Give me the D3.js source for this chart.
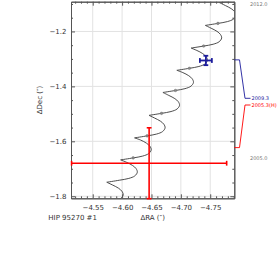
<!DOCTYPE html>
<html>
<head>
<meta charset="utf-8">
<script src="https://cdn.jsdelivr.net/npm/d3@7"></script>
<style>
  body { margin: 0; background: #fff; }
  svg { display: block; }
  text { font-family: "DejaVu Sans", sans-serif; fill: #333; }
</style>
</head>
<body>
<svg id="chart" width="277" height="262"></svg>
<script>
// model track (RA, Dec in arcsec), 8 points per yearly loop, loops start at a cusp
var trackRA = [
  -4.5498, -4.5711, -4.5873, -4.5975, -4.6018, -4.5997, -4.5938, -4.5839,
  -4.5739, -4.5952, -4.6114, -4.6216, -4.6259, -4.6238, -4.6179, -4.6080,
  -4.5975, -4.6188, -4.6350, -4.6452, -4.6495, -4.6474, -4.6415, -4.6316,
  -4.6212, -4.6425, -4.6587, -4.6689, -4.6732, -4.6711, -4.6652, -4.6553,
  -4.6458, -4.6671, -4.6833, -4.6935, -4.6978, -4.6957, -4.6898, -4.6799,
  -4.6695, -4.6908, -4.7070, -4.7172, -4.7215, -4.7194, -4.7135, -4.7036,
  -4.6932, -4.7145, -4.7307, -4.7409, -4.7452, -4.7431, -4.7372, -4.7273,
  -4.7175, -4.7388, -4.7550, -4.7652, -4.7695, -4.7674, -4.7615, -4.7516,
  -4.7418, -4.7631, -4.7793, -4.7895, -4.7938, -4.7917, -4.7858, -4.7759,
  -4.7658, -4.7871, -4.8033
];
var trackDec = [
  -1.8315, -1.8242, -1.8176, -1.8085, -1.7950, -1.7819, -1.7706, -1.7593,
  -1.7490, -1.7417, -1.7351, -1.7260, -1.7125, -1.6994, -1.6881, -1.6768,
  -1.6677, -1.6604, -1.6538, -1.6447, -1.6312, -1.6181, -1.6068, -1.5955,
  -1.5875, -1.5802, -1.5736, -1.5645, -1.5510, -1.5379, -1.5266, -1.5153,
  -1.5055, -1.4982, -1.4916, -1.4825, -1.4690, -1.4559, -1.4446, -1.4333,
  -1.4222, -1.4149, -1.4083, -1.3992, -1.3857, -1.3726, -1.3613, -1.3500,
  -1.3415, -1.3342, -1.3276, -1.3185, -1.3050, -1.2919, -1.2806, -1.2693,
  -1.2605, -1.2532, -1.2466, -1.2375, -1.2240, -1.2109, -1.1996, -1.1883,
  -1.1780, -1.1707, -1.1641, -1.1550, -1.1415, -1.1284, -1.1171, -1.1058,
  -1.0950, -1.0877, -1.0811
];
var cuspIndex = [0, 8, 16, 24, 32, 40, 48, 56, 64, 72];

// yearly epoch markers on the track
var epochRA  = [-4.6188, -4.6425, -4.6671, -4.6908, -4.7145, -4.7388, -4.7631];
var epochDec = [-1.6604, -1.5802, -1.4982, -1.4149, -1.3342, -1.2532, -1.1707];

// observations
var obsLabel  = ["2009.3", "2005.3(H)"];
var obsRA     = [-4.7426, -4.6460];
var obsDec    = [-1.3057, -1.6798];
var obsErrRA  = [0.0102, 0.1320];
var obsErrDec = [0.0171, 0.1290];
var obsTrackDec = [-1.3035, -1.6229];

// epoch labels at right
var endLabel = ["2012.0", "2005.0"];
var endDec   = [-1.1025, -1.6618];

var xMajor = [-4.55, -4.60, -4.65, -4.70, -4.75];
var yMajor = [-1.2, -1.4, -1.6, -1.8];

var svg = d3.select("#chart");
var L = 71, R = 234.3, T = 1.7, B = 198.3;

var x = d3.scaleLinear().domain([-4.513, -4.791]).range([L, R]);
var y = d3.scaleLinear().domain([-1.0917, -1.8075]).range([T, B]);

var xMinor = d3.range(-4.52, -4.7901, -0.01).map(function (d) { return +d.toFixed(2); })
  .filter(function (d) { return xMajor.indexOf(d) < 0; });
var yMinor = d3.range(-1.10, -1.8001, -0.05).map(function (d) { return +d.toFixed(2); })
  .filter(function (d) { return yMajor.indexOf(d) < 0; });

svg.append("defs").append("clipPath").attr("id", "plot")
  .append("rect").attr("x", L).attr("y", T).attr("width", R - L).attr("height", B - T);

// grid
var grid = svg.append("g").attr("stroke", "#e2e2e2").attr("stroke-width", 1);
grid.selectAll(".gx").data(xMajor).enter().append("line")
  .attr("x1", d => x(d)).attr("x2", d => x(d)).attr("y1", T).attr("y2", B);
grid.selectAll(".gy").data(yMajor).enter().append("line")
  .attr("y1", d => y(d)).attr("y2", d => y(d)).attr("x1", L).attr("x2", R);

// track
var line = d3.line()
  .x(function (i) { return x(trackRA[i]); })
  .y(function (i) { return y(trackDec[i]); })
  .curve(d3.curveCatmullRom);

var segs = cuspIndex.map(function (c, k) {
  var end = k + 1 < cuspIndex.length ? cuspIndex[k + 1] : trackRA.length - 1;
  return d3.range(c, end + 1);
});

var plot = svg.append("g").attr("clip-path", "url(#plot)");
plot.selectAll(".seg").data(segs).enter().append("path")
  .attr("d", line)
  .attr("fill", "none")
  .attr("stroke", "#3a3a3a")
  .attr("stroke-width", 0.9);

plot.selectAll(".ep").data(epochRA).enter().append("circle")
  .attr("cx", d => x(d))
  .attr("cy", (d, i) => y(epochDec[i]))
  .attr("r", 1.3)
  .attr("fill", "#8a8a8a")
  .attr("stroke", "#666")
  .attr("stroke-width", 0.4);

// axes
function styleAxis(g) {
  g.selectAll(".domain").attr("stroke", "#555");
  g.selectAll(".tick line").attr("stroke", "#555");
  g.selectAll("text").attr("font-size", 7).attr("font-family", "DejaVu Sans").attr("fill", "#333");
}

svg.append("g").attr("transform", `translate(0,${B})`)
  .call(d3.axisBottom(x).tickValues(xMajor).tickFormat(d3.format(".2f")).tickSize(-4).tickSizeOuter(0).tickPadding(7))
  .call(styleAxis);
svg.append("g").attr("transform", `translate(0,${B})`)
  .call(d3.axisBottom(x).tickValues(xMinor).tickFormat("").tickSize(-2).tickSizeOuter(0))
  .call(styleAxis);
svg.append("g").attr("transform", `translate(0,${T})`)
  .call(d3.axisTop(x).tickValues(xMajor).tickFormat("").tickSize(-4).tickSizeOuter(0))
  .call(styleAxis);
svg.append("g").attr("transform", `translate(0,${T})`)
  .call(d3.axisTop(x).tickValues(xMinor).tickFormat("").tickSize(-2).tickSizeOuter(0))
  .call(styleAxis);

svg.append("g").attr("transform", `translate(${L},0)`)
  .call(d3.axisLeft(y).tickValues(yMajor).tickFormat(d3.format(".1f")).tickSize(-4).tickSizeOuter(0).tickPadding(4.5))
  .call(styleAxis);
svg.append("g").attr("transform", `translate(${L},0)`)
  .call(d3.axisLeft(y).tickValues(yMinor).tickFormat("").tickSize(-2).tickSizeOuter(0))
  .call(styleAxis);
svg.append("g").attr("transform", `translate(${R},0)`)
  .call(d3.axisRight(y).tickValues(yMajor).tickFormat("").tickSize(-4).tickSizeOuter(0))
  .call(styleAxis);
svg.append("g").attr("transform", `translate(${R},0)`)
  .call(d3.axisRight(y).tickValues(yMinor).tickFormat("").tickSize(-2).tickSizeOuter(0))
  .call(styleAxis);

// observations with error bars
var obsColor = ["#1c1c9c", "#ff0000"];
var cap = 2.4;
obsLabel.forEach(function (lab, i) {
  var g = svg.append("g").attr("stroke", obsColor[i]).attr("stroke-width", i ? 1.6 : 1.8);
  var x0 = x(obsRA[i] + obsErrRA[i]), x1 = x(obsRA[i] - obsErrRA[i]);
  var y0 = y(obsDec[i] + obsErrDec[i]), y1 = y(obsDec[i] - obsErrDec[i]);
  var cx = x(obsRA[i]), cy = y(obsDec[i]);
  g.append("line").attr("x1", x0).attr("x2", x1).attr("y1", cy).attr("y2", cy);
  g.append("line").attr("x1", cx).attr("x2", cx).attr("y1", y0).attr("y2", y1);
  [x0, x1].forEach(function (xx) {
    g.append("line").attr("x1", xx).attr("x2", xx).attr("y1", cy - cap).attr("y2", cy + cap);
  });
  [y0, y1].forEach(function (yy) {
    g.append("line").attr("x1", cx - cap).attr("x2", cx + cap).attr("y1", yy).attr("y2", yy);
  });
});

// leader lines and labels on the right
var labelY = [98.3, 105];
obsLabel.forEach(function (lab, i) {
  var yl = y(obsTrackDec[i]);
  svg.append("path")
    .attr("d", `M${R},${yl}H239.5L245,${labelY[i]}H250.5`)
    .attr("fill", "none")
    .attr("stroke", obsColor[i])
    .attr("stroke-width", 0.9);
  svg.append("text")
    .attr("x", 251.5).attr("y", labelY[i]).attr("dy", "0.35em")
    .attr("font-size", 5).style("fill", obsColor[i])
    .text(lab);
});

endLabel.forEach(function (lab, i) {
  svg.append("text")
    .attr("x", 250).attr("y", Math.max(y(endDec[i]), 3.5)).attr("dy", "0.35em")
    .attr("font-size", 5).style("fill", "#777")
    .text(lab);
});

// titles
svg.append("text").attr("x", (L + R) / 2).attr("y", 219.5)
  .attr("text-anchor", "middle").attr("font-size", 7).text("ΔRA (″)");
svg.append("text")
  .attr("transform", `translate(39.5,${(T + B) / 2}) rotate(-90)`)
  .attr("text-anchor", "middle").attr("dy", "0.35em").attr("font-size", 7).text("ΔDec (″)");
svg.append("text").attr("x", 48.3).attr("y", 219.5)
  .attr("font-size", 7).text("HIP 95270 #1");
</script>
</body>
</html>
